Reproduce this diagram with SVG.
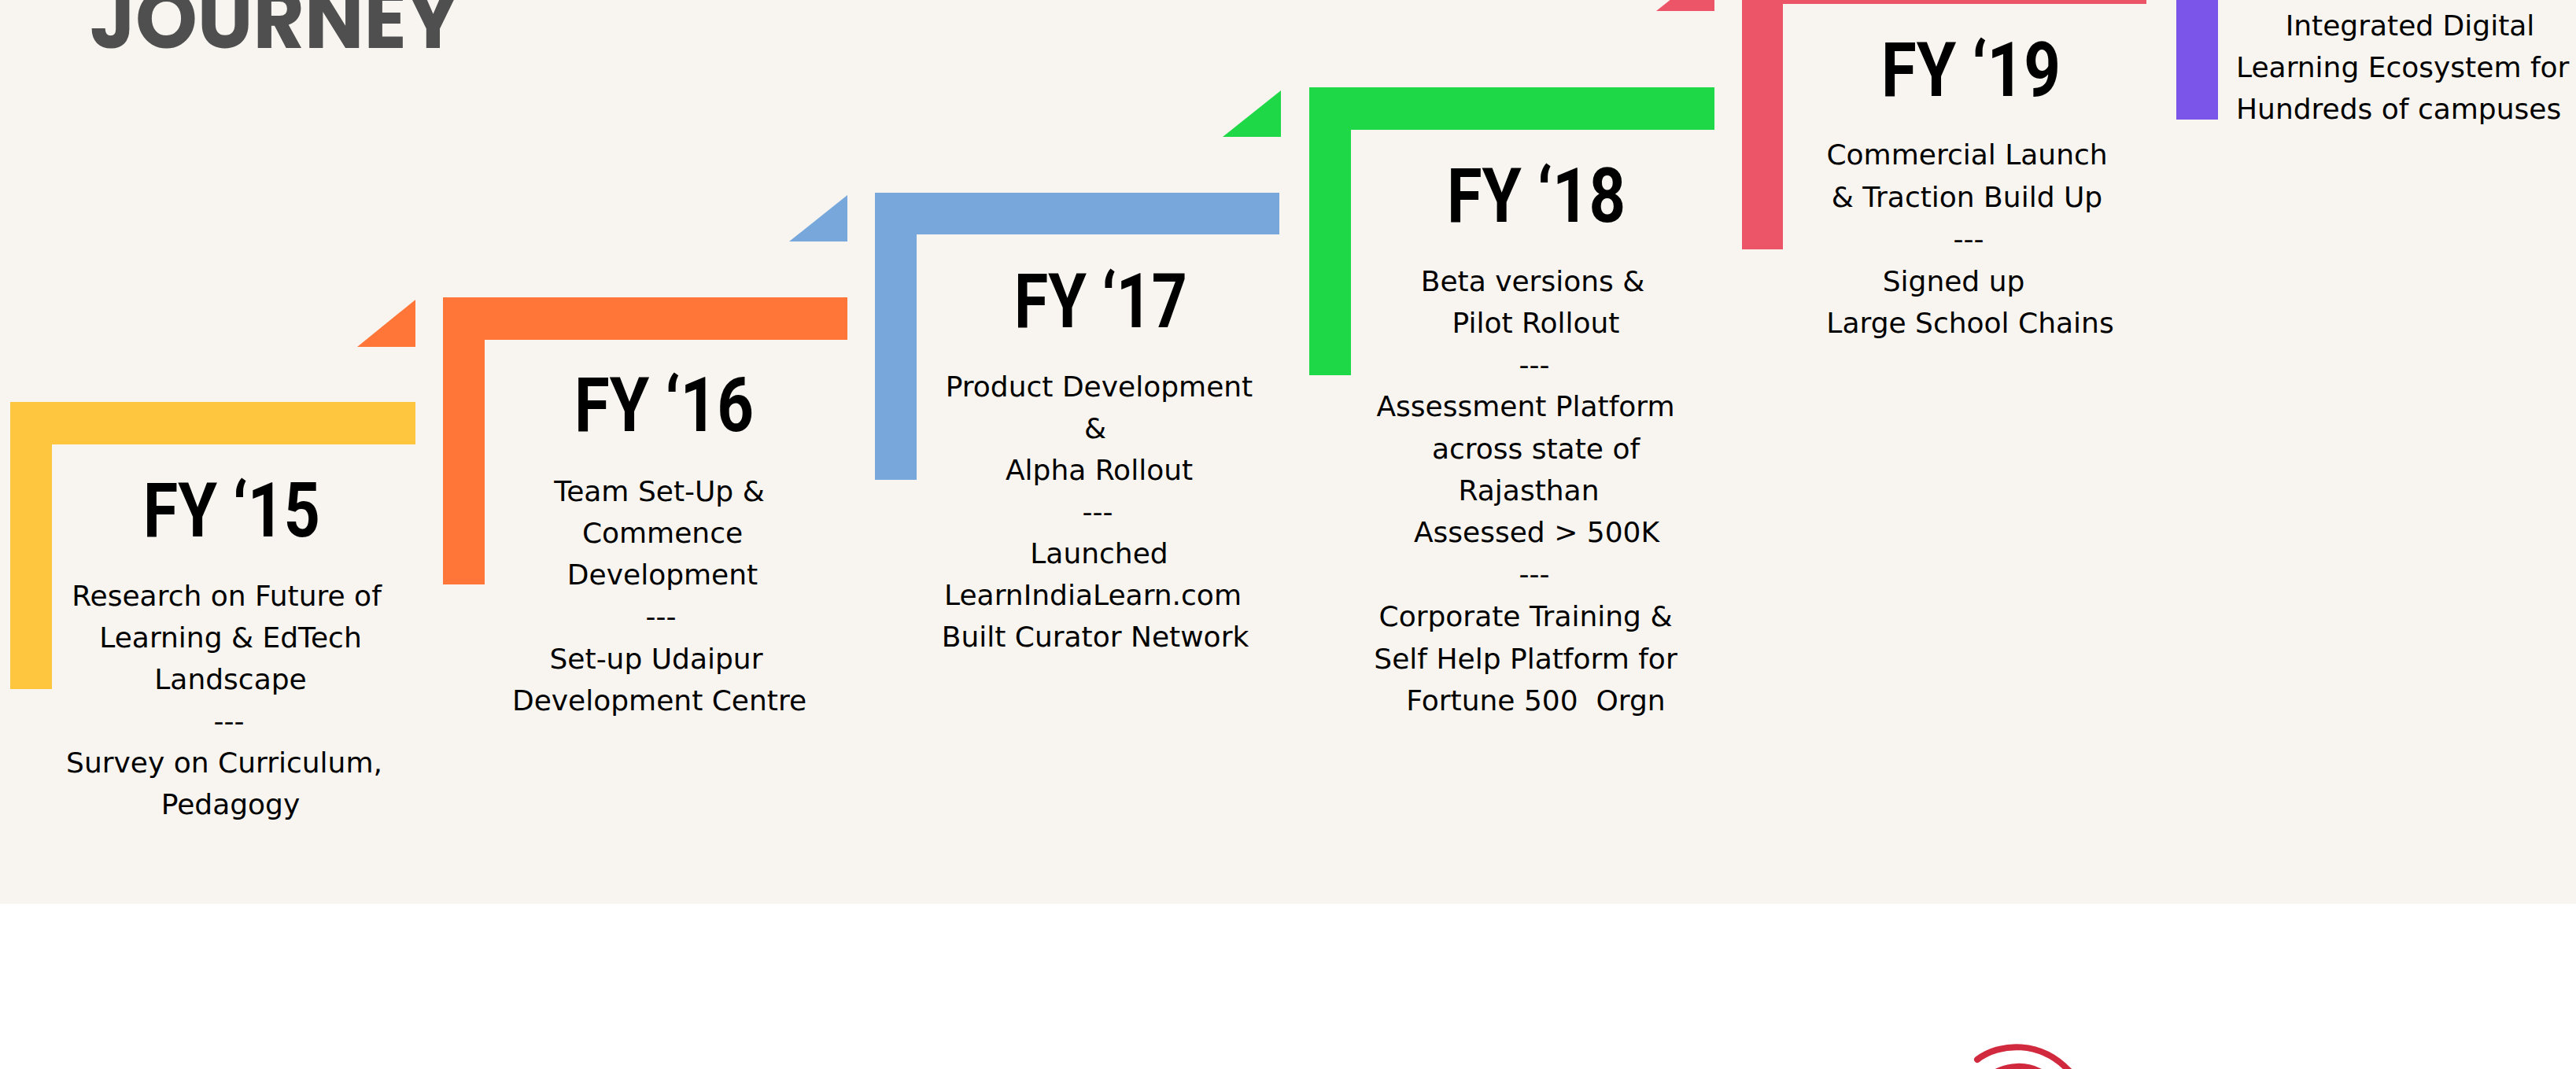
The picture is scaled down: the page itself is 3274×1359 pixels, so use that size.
<svg xmlns="http://www.w3.org/2000/svg" width="3274" height="1359" viewBox="0 0 3274 1359">
<style>
.body{font-family:"DejaVu Sans","Liberation Sans",sans-serif;font-size:36px;fill:#000;text-anchor:middle;white-space:pre}
.title{font-family:Roboto,"Liberation Sans",sans-serif;font-weight:700;font-size:97px;fill:#000}
.yellow{fill:#FEC53E}.orange{fill:#FF7638}.blue{fill:#78A8DB}.green{fill:#1ED848}.red{fill:#EC5468}.purple{fill:#7B55E9}
</style>
<rect x="0" y="0" width="3274" height="1149" fill="#F8F5F0"/>
<rect x="0" y="1149" width="3274" height="210" fill="#FFFFFF"/>
<text x="114" y="61" font-family="Poppins,'Liberation Sans',sans-serif" font-weight="700" font-size="106" fill="#4F4F4F" textLength="470" lengthAdjust="spacingAndGlyphs">JOURNEY</text>

<g id="fy15">
<path class="yellow" d="M13 511H528V565H66V876H13Z"/>
<text class="title" x="182" y="682" textLength="225" lengthAdjust="spacingAndGlyphs">FY ‘15</text>
<text class="body" x="288" y="770">Research on Future of</text>
<text class="body" x="293" y="823">Learning &amp; EdTech</text>
<text class="body" x="293" y="876">Landscape</text>
<text class="body" x="291" y="929">---</text>
<text class="body" x="285" y="982">Survey on Curriculum,</text>
<text class="body" x="293" y="1035">Pedagogy</text>
</g>

<g id="fy16">
<path class="orange" d="M528 381V441H454Z"/>
<path class="orange" d="M563 378H1077V432H616V743H563Z"/>
<text class="title" x="730" y="548" textLength="228" lengthAdjust="spacingAndGlyphs">FY ‘16</text>
<text class="body" x="838" y="637">Team Set-Up &amp;</text>
<text class="body" x="842" y="690">Commence</text>
<text class="body" x="842" y="743">Development</text>
<text class="body" x="840" y="796">---</text>
<text class="body" x="834" y="850">Set-up Udaipur</text>
<text class="body" x="838" y="903">Development Centre</text>
</g>

<g id="fy17">
<path class="blue" d="M1077 248V307H1003Z"/>
<path class="blue" d="M1112 245H1626V298H1165V610H1112Z"/>
<text class="title" x="1289" y="416" textLength="220" lengthAdjust="spacingAndGlyphs">FY ‘17</text>
<text class="body" x="1397" y="504">Product Development</text>
<text class="body" x="1392" y="557">&amp;</text>
<text class="body" x="1397" y="610">Alpha Rollout</text>
<text class="body" x="1395" y="663">---</text>
<text class="body" x="1397" y="716">Launched</text>
<text class="body" x="1389" y="769">LearnIndiaLearn.com</text>
<text class="body" x="1392" y="822">Built Curator Network</text>
</g>

<g id="fy18">
<path class="green" d="M1628 115V174H1554Z"/>
<path class="green" d="M1664 111H2179V165H1717V477H1664Z"/>
<text class="title" x="1839" y="282" textLength="227" lengthAdjust="spacingAndGlyphs">FY ‘18</text>
<text class="body" x="1948" y="370">Beta versions &amp;</text>
<text class="body" x="1952" y="423">Pilot Rollout</text>
<text class="body" x="1950" y="476">---</text>
<text class="body" x="1939" y="529">Assessment Platform</text>
<text class="body" x="1952" y="583">across state of</text>
<text class="body" x="1943" y="636">Rajasthan</text>
<text class="body" x="1953" y="689">Assessed &gt; 500K</text>
<text class="body" x="1950" y="742">---</text>
<text class="body" x="1939" y="796">Corporate Training &amp;</text>
<text class="body" x="1939" y="850">Self Help Platform for</text>
<text class="body" x="1952" y="903">Fortune 500  Orgn</text>
</g>

<g id="fy19">
<path class="red" d="M2179 -45V14H2105Z"/>
<path class="red" d="M2214 -49H2728V5H2266V317H2214Z"/>
<text class="title" x="2391" y="122" textLength="228" lengthAdjust="spacingAndGlyphs">FY ‘19</text>
<text class="body" x="2500" y="209">Commercial Launch</text>
<text class="body" x="2500" y="263">&amp; Traction Build Up</text>
<text class="body" x="2502" y="316">---</text>
<text class="body" x="2483" y="370">Signed up</text>
<text class="body" x="2504" y="423">Large School Chains</text>
</g>

<g id="fy20">
<rect class="purple" x="2766" y="0" width="53" height="152"/>
<text class="body" x="3063" y="45">Integrated Digital</text>
<text class="body" x="2842" y="98" text-anchor="start" style="text-anchor:start">Learning Ecosystem for</text>
<text class="body" x="2842" y="151" style="text-anchor:start">Hundreds of campuses</text>
</g>

<g id="logo" fill="none" stroke="#D12A3E" stroke-width="8" stroke-linecap="round">
<path d="M2513 1347C2540 1326 2595 1320 2634 1366"/>
<path d="M2535 1364C2552 1354 2575 1353 2592 1362"/>
</g>
<g id="connectors"/>
</svg>
